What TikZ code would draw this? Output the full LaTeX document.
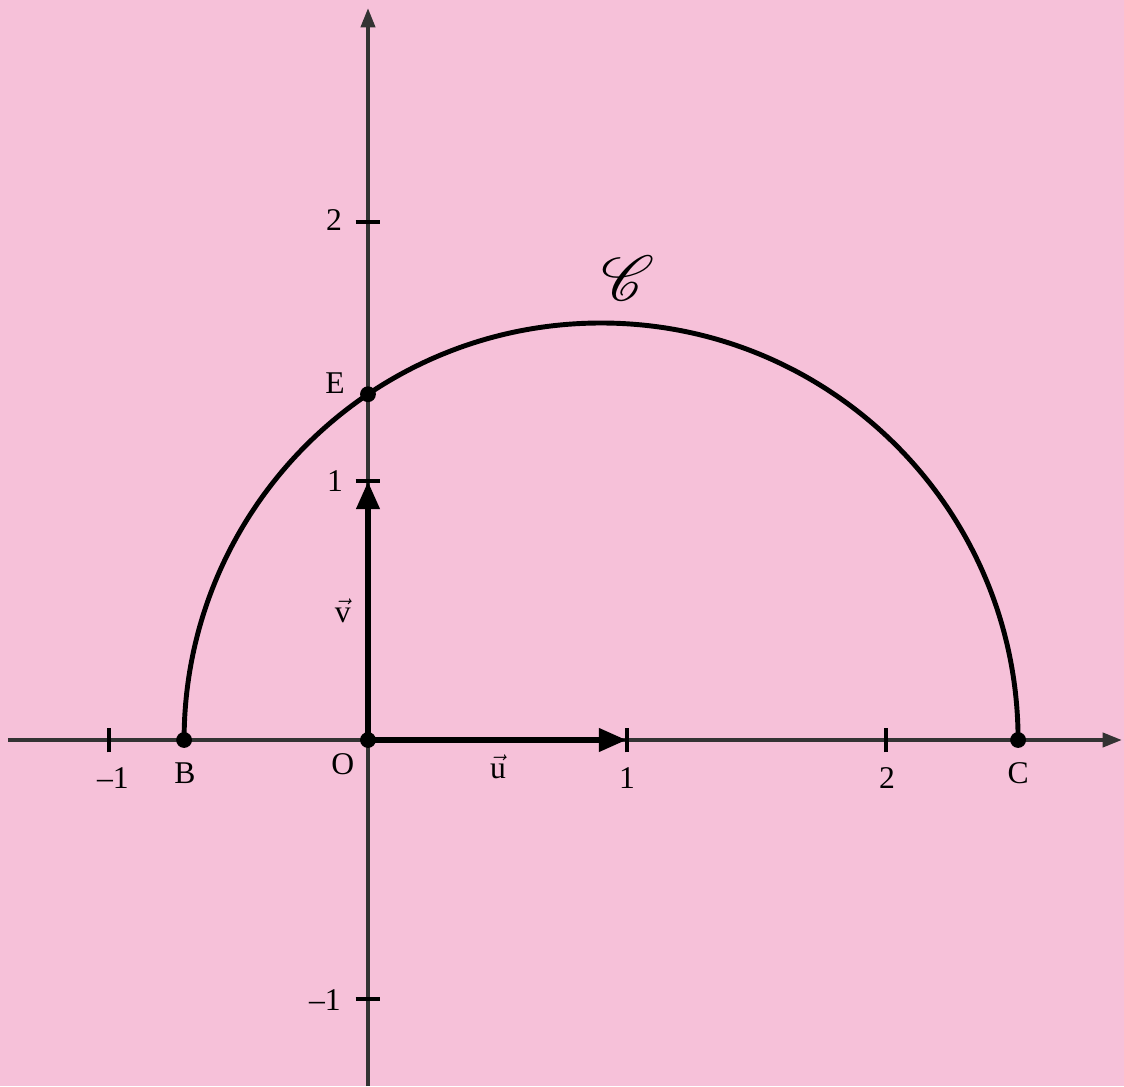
\documentclass[tikz,border=0pt]{standalone}
\usepackage{fontspec}
\setmainfont{Liberation Serif}
\usepackage{mathrsfs}
\usepackage{graphicx}
\usetikzlibrary{arrows.meta}
\definecolor{bg}{HTML}{F6C1D9}
\definecolor{axiscol}{HTML}{333333}
\begin{document}
\begin{tikzpicture}[x=5.18cm,y=5.18cm,
  lbl/.style={font=\fontsize{18}{21}\selectfont, inner sep=0pt},
  axisline/.style={draw=axiscol, line width=2.2pt, -{Triangle[length=11pt,width=8pt]}},
  tickmark/.style={draw=black, line width=2.2pt},
  vecline/.style={draw=black, line width=3.9pt, -{Triangle[length=16pt,width=12.5pt]}},
  curve/.style={draw=black, line width=2.8pt},
  dot/.style={circle, fill=black, inner sep=0pt, minimum size=9pt}]
\fill[bg] (-1.4208,-1.3359) rectangle (2.9189,2.8571);
\useasboundingbox (-1.4208,-1.3359) rectangle (2.9189,2.8571);
% coordinates
\coordinate (O) at (0,0);
\coordinate (xs) at (-1.39,0);
\coordinate (xe) at (2.911,0);
\coordinate (ys) at (0,-1.3359);
\coordinate (ye) at (0,2.826);
\coordinate (U) at (1,0);
\coordinate (V) at (0,1);
\coordinate (B) at (-0.71,0);
\coordinate (C) at (2.51,0);
\coordinate (E) at (0,1.335);
% axes
\draw[axisline] (xs) -- (xe);
\draw[axisline] (ys) -- (ye);
% ticks
\foreach \t in {-1,1,2} {
  \draw[tickmark] (\t,-0.048) -- (\t,0.048);
  \draw[tickmark] (-0.048,\t) -- (0.048,\t);
}
% semicircle
\draw[curve] (C) arc[start angle=0, end angle=180, radius=1.61];
% vectors
\draw[vecline] (O) -- (U);
\draw[vecline] (O) -- (V);
% points
\node[dot] (dO) at (O) {};
\node[dot] (dB) at (B) {};
\node[dot] (dC) at (C) {};
\node[dot] (dE) at (E) {};
% tick labels
\node[lbl] (lxm1) at (-0.985,-0.147) {\textendash1};
\node[lbl] (lx1) at (1.0,-0.147) {1};
\node[lbl] (lx2) at (2.004,-0.147) {2};
\node[lbl] (ly1) at (-0.127,1.0) {1};
\node[lbl] (ly2) at (-0.131,2.008) {2};
\node[lbl] (lym1) at (-0.166,-1.004) {\textendash1};
% point labels
\node[lbl] (lB) at (-0.707,-0.127) {B};
\node[lbl] (lC) at (2.51,-0.127) {C};
\node[lbl] (lO) at (-0.097,-0.093) {O};
\node[lbl] (lE) at (-0.127,1.378) {E};
\node[lbl] (lu) at (0.502,-0.104) {$\vec{\mbox{u}}$};
\node[lbl] (lv) at (-0.097,0.498) {$\vec{\mbox{v}}$};
\node[inner sep=0pt, font=\fontsize{24.88}{30}\selectfont] (lCurve) at (1.004,1.784) {\scalebox{1.45}{$\mathscr{C}$}};
\end{tikzpicture}
\end{document}
